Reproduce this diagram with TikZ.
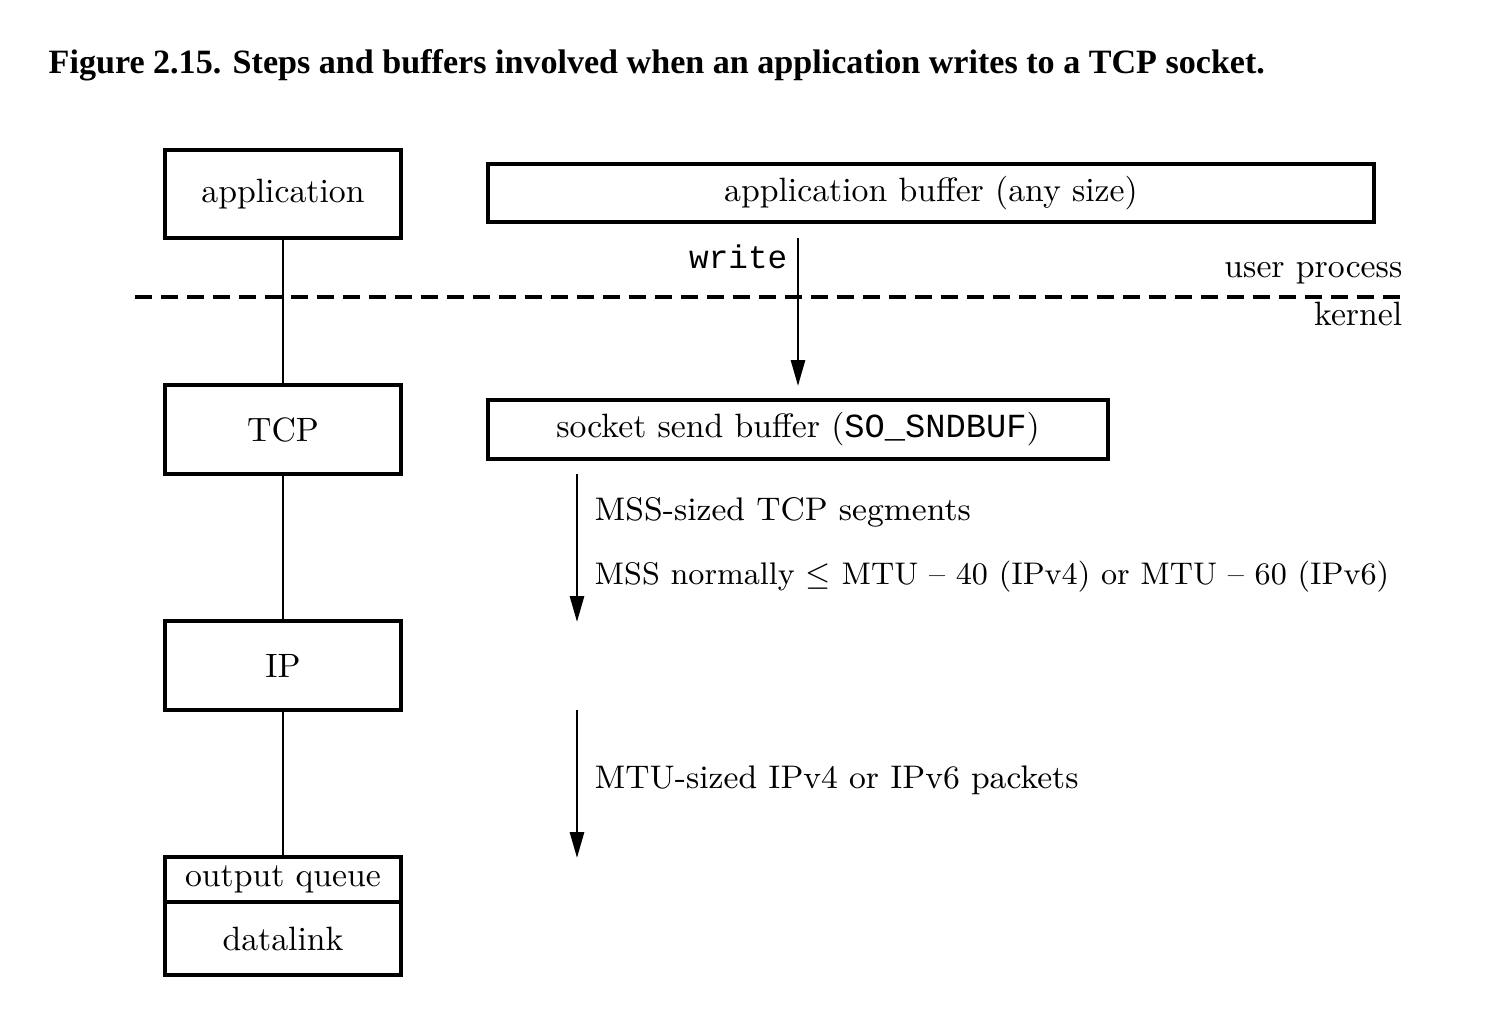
\documentclass[tikz,border=0pt]{standalone}
\usepackage{fontspec}
\newfontfamily\titlefont{Liberation Serif}
\setmonofont{Liberation Mono}
\usetikzlibrary{arrows.meta}
\tikzset{
  layer/.style={draw, line width=0.9pt, minimum width=2.36cm, inner sep=0pt, font=\fontsize{9.6}{11}\selectfont},
  buffer/.style={draw, line width=0.9pt, inner sep=0pt, font=\fontsize{9.6}{11}\selectfont},
  flow/.style={line width=0.8pt, -{Triangle[length=0.26cm,width=0.14cm]}},
  lbl/.style={font=\fontsize{9.6}{11}\selectfont, inner sep=0pt},
  note/.style={font=\fontsize{9.3}{11}\selectfont, inner sep=0pt, anchor=west}
}
\begin{document}
\begin{tikzpicture}
    \useasboundingbox (0,0) rectangle (14.86,-10.30);
    \node[anchor=base west, inner sep=0pt, font=\titlefont\bfseries\fontsize{9.7}{12}\selectfont] (title) at (0.48,-0.73)
        {Figure 2.15. Steps and buffers involved when an application writes to a TCP socket.};
    %% left column: protocol layers
    \node[layer, minimum height=0.88cm] (app) at (2.83,-1.94) {application};
    \node[layer, minimum height=0.89cm] (tcp) at (2.83,-4.295) {TCP};
    \node[layer, minimum height=0.89cm] (ip) at (2.83,-6.655) {IP};
    \node[layer, minimum height=0.45cm] (oq) at (2.83,-8.795) {output queue};
    \node[layer, minimum height=0.73cm] (dl) at (2.83,-9.385) {datalink};
    \draw[line width=0.8pt] (app) -- (tcp) (tcp) -- (ip) (ip) -- (oq);
    %% user / kernel boundary
    \draw[dashed, line width=1pt, dash pattern=on 0.17cm off 0.09cm] (1.35,-2.97) -- (14.05,-2.97);
    \node[lbl, anchor=east] (user) at (14.03,-2.73) {user process};
    \node[lbl, anchor=east] (kern) at (14.03,-3.14) {kernel};
    %% right column: buffers
    \node[buffer, minimum width=8.86cm, minimum height=0.58cm] (appbuf) at (9.31,-1.93) {application buffer (any size)};
    \node[buffer, minimum width=6.20cm, minimum height=0.59cm] (sockbuf) at (7.98,-4.295) {socket send buffer (\texttt{SO\_SNDBUF})};
    \coordinate (wtop) at (7.98,-2.38);
    \coordinate (wend) at (7.98,-3.86);
    \draw[flow] (wtop) -- (wend);
    \node[lbl, anchor=east, font=\ttfamily\fontsize{9.3}{11}\selectfont] (write) at (7.88,-2.57) {write};
    %% segments and packets
    \coordinate (mss1) at (5.77,-4.74);
    \coordinate (mss2) at (5.77,-6.22);
    \draw[flow] (mss1) -- (mss2);
    \node[note] (seg) at (5.94,-5.12) {MSS-sized TCP segments};
    \node[note, font=\fontsize{8.9}{11}\selectfont] (mss) at (5.94,-5.77) {MSS normally $\leq$ MTU -- 40 (IPv4) or MTU -- 60 (IPv6)};
    \coordinate (mtu1) at (5.77,-7.10);
    \coordinate (mtu2) at (5.77,-8.58);
    \draw[flow] (mtu1) -- (mtu2);
    \node[note] (pkt) at (5.94,-7.80) {MTU-sized IPv4 or IPv6 packets};
\end{tikzpicture}
\end{document}
